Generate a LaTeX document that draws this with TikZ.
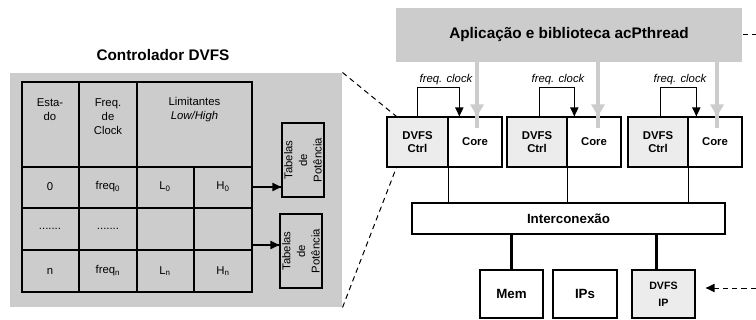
\documentclass[tikz,border=0pt]{standalone}
\usepackage{fontspec}
\setmainfont{Liberation Sans}
\usetikzlibrary{calc}

\definecolor{panelgray}{RGB}{204,204,204}
\definecolor{ctrlgray}{RGB}{236,236,236}

\tikzset{every picture/.style={line width=0.75pt}}
\tikzset{
  wh/.style 2 args={minimum width=#1*0.75pt, minimum height=#2*0.75pt},
  boxlbl/.style={draw, inner sep=0pt, align=center, line width=1pt, font=\fontsize{8.5}{10}\selectfont\bfseries},
  boxbig/.style={draw, inner sep=0pt, align=center, line width=1pt, font=\fontsize{10}{12}\selectfont\bfseries},
  celltxt/.style={inner sep=0.75pt, align=center, font=\fontsize{8.5}{10.5}\selectfont},
  titletxt/.style={inner sep=0.75pt, font=\fontsize{11.5}{14}\selectfont\bfseries},
  zoomline/.style={dash pattern=on 4pt off 3pt},
}

\begin{document}
\begin{tikzpicture}[x=0.75pt,y=0.75pt,yscale=-1,xscale=1]
\useasboundingbox (0,0) rectangle (756,320);

%Shape: Rectangle (controller panel)
\node (panel) [fill=panelgray, inner sep=0pt, wh={332}{234}] at (176,190) {};
% Text Node
\node (ctrlTitle) [titletxt] at (163,55) {Controlador DVFS};

%Shape: Table
\draw [line width=1pt] (22,82) rectangle (252,292);
\draw [line width=1pt] (22,167) -- (252,167) (22,208) -- (252,208) (22,250) -- (252,250);
\draw [line width=1pt] (79,82) -- (79,292) (137,82) -- (137,292) (194,167) -- (194,292);

% Text Node
\node (hEst) [celltxt] at (50,110) {Esta-\\do};
\node (hFreq) [celltxt] at (108,117) {Freq.\\de\\Clock};
\node (hLim) [celltxt] at (194.5,110) {Limitantes\\\textit{Low/High}};
% Text Node
\node (st0) [celltxt] at (50,187) {0};
\node (fr0) [celltxt] at (108,187) {freq\textsubscript{0}};
\node (lo0) [celltxt] at (165,187) {L\textsubscript{0}};
\node (hi0) [celltxt] at (223,187) {H\textsubscript{0}};
% Text Node
\node (stDots) [celltxt] at (50,229) {.......};
\node (frDots) [celltxt] at (108,229) {.......};
% Text Node
\node (stN) [celltxt] at (50,271) {n};
\node (frN) [celltxt] at (108,271) {freq\textsubscript{n}};
\node (loN) [celltxt] at (165,271) {L\textsubscript{n}};
\node (hiN) [celltxt] at (223,271) {H\textsubscript{n}};

%Shape: Rectangle (power tables)
\node (tabA) [draw, line width=1pt, inner sep=0pt, wh={42}{74}] at (303,160) {};
\node (tabAtxt) [celltxt, rotate=90, font=\fontsize{8.5}{11}\selectfont] at (tabA.center) {Tabelas\\de\\Potência};
\node (tabB) [draw, line width=1pt, inner sep=0pt, wh={42}{74}] at (301,251) {};
\node (tabBtxt) [celltxt, rotate=90, font=\fontsize{8.5}{11}\selectfont] at (tabB.center) {Tabelas\\de\\Potência};

%Straight Lines
\coordinate (rowA) at (252,187);
\draw [line width=1pt] (rowA) -- (rowA -| tabA.west) ;
\draw [shift={(rowA -| tabA.west)}, rotate = 180] [fill=black][line width=0.08] [draw opacity=0] (8.93,-4.29) -- (0,0) -- (8.93,4.29) -- cycle ;
%Straight Lines
\coordinate (rowB) at (252,245);
\draw [line width=1pt] (rowB) -- (rowB -| tabB.west) ;
\draw [shift={(rowB -| tabB.west)}, rotate = 180] [fill=black][line width=0.08] [draw opacity=0] (8.93,-4.29) -- (0,0) -- (8.93,4.29) -- cycle ;

%Shape: Rectangle (application)
\node (app) [fill=panelgray, inner sep=0pt, wh={346}{54}, titletxt] at (569,35) {Aplicação e biblioteca acPthread};
\coordinate (outT) at (756,35);
\draw [zoomline] (app.east) -- (outT) ;

%Shape: Rectangle (cores)
\node (ctrlA) [boxlbl, fill=ctrlgray, wh={61}{50}] at (417.5,142) {DVFS\\Ctrl};
\node (coreA) [boxlbl, wh={54}{50}] at (475,142) {Core};
\node (ctrlB) [boxlbl, fill=ctrlgray, wh={60}{50}] at (537,142) {DVFS\\Ctrl};
\node (coreB) [boxlbl, wh={54}{50}] at (594,142) {Core};
\node (ctrlC) [boxlbl, fill=ctrlgray, wh={60}{50}] at (658,142) {DVFS\\Ctrl};
\node (coreC) [boxlbl, wh={54}{50}] at (715,142) {Core};

%Straight Lines (application to cores)
\draw [color=panelgray, line width=3.5] ([xshift=1.5pt]coreA.north |- app.south) -- ([xshift=1.5pt,yshift=9pt]coreA.north) ;
\draw [shift={([xshift=1.5pt]coreA.north)}, rotate = 270] [fill=panelgray][line width=0.08] [draw opacity=0] (12,-7) -- (0,0) -- (12,7) -- cycle ;
\draw [color=panelgray, line width=3.5] ([xshift=3pt]coreB.north |- app.south) -- ([xshift=3pt,yshift=9pt]coreB.north) ;
\draw [shift={([xshift=3pt]coreB.north)}, rotate = 270] [fill=panelgray][line width=0.08] [draw opacity=0] (12,-7) -- (0,0) -- (12,7) -- cycle ;
\draw [color=panelgray, line width=3.5] ([xshift=1.5pt]coreC.north |- app.south) -- ([xshift=1.5pt,yshift=9pt]coreC.north) ;
\draw [shift={([xshift=1.5pt]coreC.north)}, rotate = 270] [fill=panelgray][line width=0.08] [draw opacity=0] (12,-7) -- (0,0) -- (12,7) -- cycle ;

%Straight Lines (freq. clock)
\draw (ctrlA.north) -- ++(0,-29) -| ([xshift=9pt]coreA.north west) ;
\draw [shift={([xshift=9pt]coreA.north west)}, rotate = 270] [fill=black][line width=0.08] [draw opacity=0] (8.93,-4.29) -- (0,0) -- (8.93,4.29) -- cycle ;
\draw ([xshift=1.5pt]ctrlB.north) -- ++(0,-29) -| ([xshift=6pt]coreB.north west) ;
\draw [shift={([xshift=6pt]coreB.north west)}, rotate = 270] [fill=black][line width=0.08] [draw opacity=0] (8.93,-4.29) -- (0,0) -- (8.93,4.29) -- cycle ;
\draw ([xshift=1.5pt]ctrlC.north) -- ++(0,-29) -| ([xshift=6.75pt]coreC.north west) ;
\draw [shift={([xshift=6.75pt]coreC.north west)}, rotate = 270] [fill=black][line width=0.08] [draw opacity=0] (8.93,-4.29) -- (0,0) -- (8.93,4.29) -- cycle ;
% Text Node
\node (clkA) [celltxt, font=\fontsize{8.5}{10}\selectfont\itshape] at (446,80) {freq. clock};
\node (clkB) [celltxt, font=\fontsize{8.5}{10}\selectfont\itshape] at (558,80) {freq. clock};
\node (clkC) [celltxt, font=\fontsize{8.5}{10}\selectfont\itshape] at (680,80) {freq. clock};

%Shape: Rectangle (interconnect)
\node (bus) [boxbig, wh={313}{31}] at (568.5,218.5) {Interconexão};
\draw (ctrlA.south east) -- (ctrlA.south east |- bus.north) ;
\draw (ctrlB.south east) -- (ctrlB.south east |- bus.north) ;
\draw (ctrlC.south east) -- (ctrlC.south east |- bus.north) ;

%Shape: Rectangle (peripherals)
\node (mem) [boxbig, wh={63}{48}] at (511.5,294) {Mem};
\node (ips) [boxbig, wh={64}{48}] at (585,294) {IPs};
\node (dvfsIP) [boxlbl, fill=ctrlgray, wh={63}{48}, font=\fontsize{8}{13}\selectfont\bfseries] at (663.5,294) {DVFS\\IP};
\draw [line width=2.25] (mem.north |- bus.south) -- (mem.north) ;
\draw [line width=2.25] ([xshift=-5pt]dvfsIP.north |- bus.south) -- ([xshift=-5pt]dvfsIP.north) ;

%Straight Lines (to DVFS IP)
\coordinate (outB) at (756,288);
\coordinate (ipIn) at ([xshift=7.5pt]dvfsIP.east |- outB);
\draw [zoomline] (outB) -- ([xshift=6pt]ipIn) ;
\draw [shift={(ipIn)}, rotate = 0] [fill=black][line width=0.08] [draw opacity=0] (8.93,-4.29) -- (0,0) -- (8.93,4.29) -- cycle ;

%Straight Lines (zoom)
\draw [zoomline] (panel.north east) -- ([xshift=7.5pt]ctrlA.north west) ;
\draw [zoomline] (panel.south east) -- ([xshift=7.5pt]ctrlA.south west) ;

\end{tikzpicture}
\end{document}
